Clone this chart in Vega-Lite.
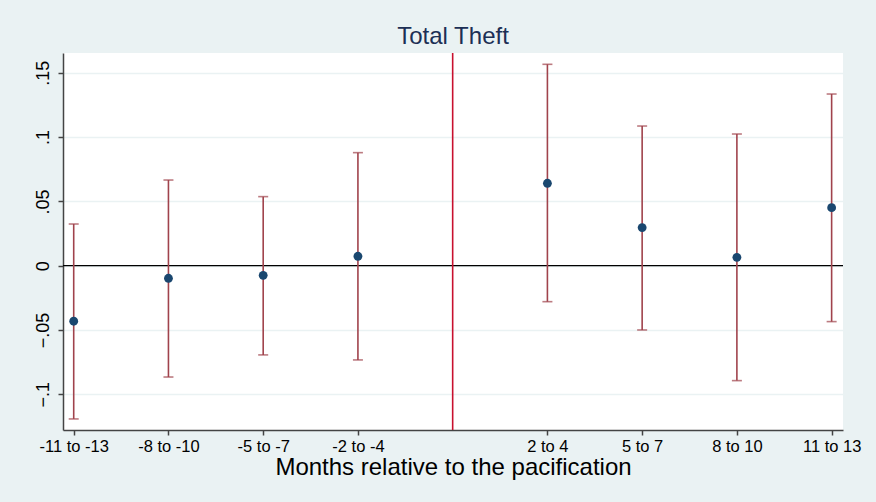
{
  "$schema": "https://vega.github.io/schema/vega-lite/v6.json",
  "width": 780,
  "height": 377,
  "autosize": {"type": "none"},
  "padding": {"left": 63, "top": 53, "right": 33, "bottom": 72},
  "background": "#eaf2f3",
  "config": {
    "view": {"stroke": null, "fill": "white"},
    "font": "Liberation Sans"
  },
  "title": {
    "text": "Total Theft",
    "fontSize": 24,
    "fontWeight": "normal",
    "color": "#1c2f55",
    "anchor": "middle",
    "offset": 3
  },
  "datasets": {
    "est": [
      {"pos": 1, "est": -0.0432, "lo": -0.1192, "hi": 0.0324},
      {"pos": 2, "est": -0.0098, "lo": -0.0866, "hi": 0.0666},
      {"pos": 3, "est": -0.0075, "lo": -0.0694, "hi": 0.0537},
      {"pos": 4, "est": 0.0073, "lo": -0.0733, "hi": 0.0879},
      {"pos": 6, "est": 0.0641, "lo": -0.028, "hi": 0.1566},
      {"pos": 7, "est": 0.0296, "lo": -0.05, "hi": 0.1086},
      {"pos": 8, "est": 0.0065, "lo": -0.0894, "hi": 0.1024},
      {"pos": 9, "est": 0.0451, "lo": -0.0435, "hi": 0.1335}
    ],
    "vline": [{"pos": 5}],
    "hline": [{"y": 0}]
  },
  "layer": [
    {
      "data": {"name": "hline"},
      "mark": {"type": "rule", "color": "#000000", "strokeWidth": 1.3},
      "encoding": {
        "y": {"field": "y", "type": "quantitative", "scale": {"domain": [-0.1278, 0.1654], "nice": false, "zero": false}}
      }
    },
    {
      "data": {"name": "vline"},
      "mark": {"type": "rule", "color": "#c8102e", "strokeWidth": 1.6},
      "encoding": {
        "x": {"field": "pos", "type": "quantitative", "scale": {"domain": [0.887, 9.12], "nice": false, "zero": false}}
      }
    },
    {
      "data": {"name": "est"},
      "mark": {"type": "errorbar", "color": "#a0434c", "thickness": 1.6, "ticks": {"size": 10, "thickness": 1.6, "color": "#a0434c"}},
      "encoding": {
        "x": {"field": "pos", "type": "quantitative"},
        "y": {"field": "lo", "type": "quantitative"},
        "y2": {"field": "hi"}
      }
    },
    {
      "data": {"name": "est"},
      "mark": {"type": "circle", "size": 78, "color": "#1a476f", "opacity": 1},
      "encoding": {
        "x": {
          "field": "pos",
          "type": "quantitative",
          "scale": {"domain": [0.887, 9.12], "nice": false, "zero": false},
          "axis": {
            "values": [1, 2, 3, 4, 6, 7, 8, 9],
            "labelExpr": "['', '-11 to -13', '-8 to -10', '-5 to -7', '-2 to -4', '', '2 to 4', '5 to 7', '8 to 10', '11 to 13'][datum.value]",
            "grid": false,
            "domainColor": "#444444",
            "domainWidth": 1.5,
            "tickColor": "#444444",
            "tickWidth": 1.5,
            "tickSize": 5,
            "labelFontSize": 16.5,
            "labelColor": "#000000",
            "labelPadding": 3,
            "labelFlush": false,
            "labelOverlap": false,
            "title": "Months relative to the pacification",
            "titleFontSize": 24,
            "titleFontWeight": "normal",
            "titleColor": "#000000",
            "titlePadding": 1
          }
        },
        "y": {
          "field": "est",
          "type": "quantitative",
          "scale": {"domain": [-0.1278, 0.1654], "nice": false, "zero": false},
          "axis": {
            "values": [-0.1, -0.05, 0, 0.05, 0.1, 0.15],
            "labelExpr": "datum.value == 0 ? '0' : replace(format(datum.value, '.2~f'), '0.', '.')",
            "grid": true,
            "gridColor": "#eaf2f3",
            "gridWidth": 1.5,
            "domainColor": "#444444",
            "domainWidth": 1.5,
            "tickColor": "#444444",
            "tickWidth": 1.5,
            "tickSize": 5,
            "labelAngle": -90,
            "labelAlign": "center",
            "labelBaseline": "bottom",
            "labelFontSize": 18,
            "labelColor": "#000000",
            "labelPadding": 6,
            "labelFlush": false,
            "labelOverlap": false,
            "title": null
          }
        }
      }
    }
  ]
}
